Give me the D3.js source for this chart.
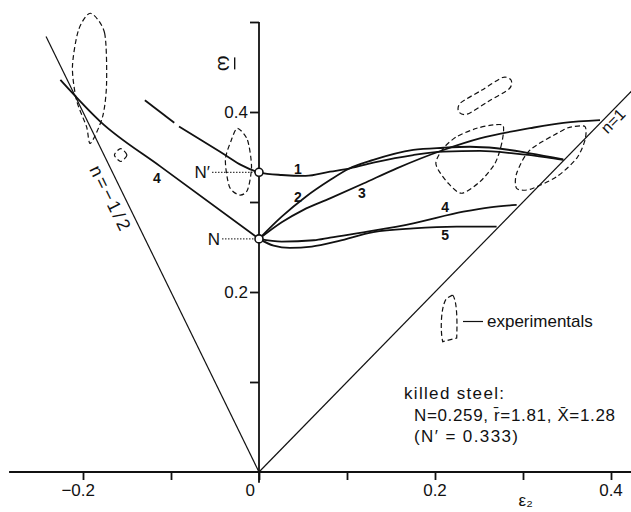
<!DOCTYPE html>
<html><head><meta charset="utf-8">
<script src="https://cdn.jsdelivr.net/npm/d3@7"></script>
<style>
body{margin:0;background:#fff}
svg{display:block}
text{font-family:"Liberation Sans",Arial,sans-serif;fill:#111}
</style></head><body>
<svg id="chart" width="631" height="512"></svg>
<script>
// ---- axis ticks ----
const xTicks = [-0.2, -0.1, 0, 0.1, 0.2, 0.3, 0.4];
const xTickLabels = ["\u22120.2", "", "0", "", "0.2", "", "0.4"];
const yTicks = [0.1, 0.2, 0.3, 0.4, 0.5];
const yTickLabels = ["", "0.2", "", "0.4", ""];

// ---- strain-path lines n = eps2/eps1 ----
const lineN1 = [[0, 0], [0.44, 0.44]];          // n = 1
const lineNHalf = [[0, 0], [-0.242, 0.484]];    // n = -1/2

// ---- predicted limit strains [eps2, omega] ----
const curve1Dash = [[-0.1297, 0.413], [-0.0909, 0.384]];
const curve1 = [[-0.0909, 0.384], [-0.0659, 0.369], [-0.038, 0.352], [-0.02, 0.341], [0, 0.333],
  [0.0258, 0.330], [0.053, 0.329], [0.0807, 0.3337], [0.1034, 0.3374], [0.1299, 0.3437],
  [0.1753, 0.3522], [0.2095, 0.3559], [0.251, 0.3567], [0.289, 0.3541], [0.327, 0.3497], [0.3458, 0.3467]];
const curve2 = [[0, 0.259], [0.0258, 0.2837], [0.0532, 0.3059], [0.0807, 0.3244], [0.1015, 0.3367],
  [0.1299, 0.3467], [0.1753, 0.3578], [0.2095, 0.3603], [0.2398, 0.3614], [0.2701, 0.3597],
  [0.308, 0.3541], [0.3458, 0.3474]];
const curve3 = [[0, 0.259], [0.0258, 0.2775], [0.05, 0.291], [0.0807, 0.304], [0.1186, 0.3205],
  [0.1565, 0.3374], [0.2095, 0.3578], [0.251, 0.3707], [0.308, 0.382], [0.346, 0.388], [0.3875, 0.391]];
const curve4 = [[0, 0.259], [0.0258, 0.256], [0.0624, 0.2575], [0.0807, 0.2605], [0.1299, 0.2681],
  [0.1753, 0.2763], [0.2322, 0.2892], [0.2625, 0.2941], [0.2928, 0.2967]];
const curve5 = [[0, 0.259], [0.0166, 0.2515], [0.035, 0.249], [0.06, 0.2505], [0.09, 0.2565],
  [0.1299, 0.2665], [0.1753, 0.2707], [0.2246, 0.2726], [0.27, 0.2726]];
const curve4Left = [[-0.2257, 0.4356], [-0.18, 0.389], [-0.1114, 0.339], [0, 0.259]];

// ---- marked points N and N' ----
const pointN = [0, 0.259];
const pointNprime = [0, 0.333];

// ---- experimental scatter regions (outlines) ----
const expA = [[-0.1915, 0.5097], [-0.1755, 0.4878], [-0.1732, 0.4322], [-0.1777, 0.3948], [-0.1915, 0.3652],
  [-0.196, 0.3837], [-0.2074, 0.4133], [-0.212, 0.4503], [-0.2051, 0.4911]];
const expB = [[-0.1572, 0.3594], [-0.1501, 0.3522], [-0.1572, 0.345], [-0.1643, 0.3522]];
const expC = [[-0.0245, 0.3819], [-0.0131, 0.3689], [-0.0085, 0.3392], [-0.0131, 0.3133], [-0.0223, 0.3078],
  [-0.0336, 0.317], [-0.0382, 0.3467], [-0.0314, 0.3689]];
const expD = [[0.2269, 0.4003], [0.2366, 0.3976], [0.2605, 0.4117], [0.2844, 0.4259], [0.2864, 0.4356],
  [0.2767, 0.4383], [0.2528, 0.4241], [0.2289, 0.41]];
const expE = [[0.2776, 0.3844], [0.2758, 0.3652], [0.2682, 0.343], [0.2511, 0.3226], [0.2303, 0.3097],
  [0.2151, 0.3208], [0.2038, 0.3356], [0.2011, 0.3448], [0.2094, 0.3597], [0.2247, 0.3726],
  [0.2474, 0.3819], [0.2663, 0.3856]];
const expF = [[0.3458, 0.38], [0.308, 0.3578], [0.2928, 0.3319], [0.2928, 0.3152], [0.308, 0.3141],
  [0.3383, 0.3281], [0.361, 0.3486], [0.3705, 0.3689], [0.3705, 0.3837], [0.3568, 0.3837]];
const expRegions = [expA, expB, expC, expD, expE, expF];

const svg = d3.select("#chart");
const x = d3.scaleLinear().domain([-0.3, 0.45]).range([-5, 655]);
const y = d3.scaleLinear().domain([0, 0.5]).range([472, 22]);
const ink = "#111";

// axes
const gx = svg.append("g").attr("transform", `translate(0,${y(0)})`)
  .call(d3.axisBottom(x).tickValues(xTicks).tickSize(8).tickFormat(""));
gx.select(".domain").remove();
gx.selectAll(".tick line").attr("stroke", ink).attr("stroke-width", 1.8);
svg.append("line").attr("x1", x(-0.284)).attr("x2", x(0.43)).attr("y1", y(0)).attr("y2", y(0))
  .attr("stroke", ink).attr("stroke-width", 1.8);
svg.selectAll(".xlab").data(xTicks).join("text")
  .attr("x", (d) => d < 0 ? x(d) + 12 : d === 0 ? x(d) - 4 : x(d))
  .attr("y", y(0) + 24)
  .attr("text-anchor", (d) => d <= 0 ? "end" : "middle")
  .attr("font-size", 17)
  .text((d, i) => xTickLabels[i]);

const gy = svg.append("g").attr("transform", `translate(${x(0)},0)`)
  .call(d3.axisLeft(y).tickValues(yTicks).tickSize(9).tickFormat(""));
gy.select(".domain").remove();
gy.selectAll(".tick line").attr("stroke", ink).attr("stroke-width", 1.8);
svg.append("line").attr("x1", x(0)).attr("x2", x(0)).attr("y1", y(0.5)).attr("y2", y(-0.012))
  .attr("stroke", ink).attr("stroke-width", 1.8);
svg.selectAll(".ylab").data(yTicks).join("text")
  .attr("x", x(0) - 11).attr("y", (d) => y(d) + 6)
  .attr("text-anchor", "end").attr("font-size", 17)
  .text((d, i) => yTickLabels[i]);

// axis titles
svg.append("text").attr("x", x(0.295)).attr("y", 506).attr("font-size", 17).text("\u03b5\u2082");
const wTitle = svg.append("g").attr("transform", `translate(${x(-0.039)},${y(0.454)}) rotate(90)`);
wTitle.append("text").attr("text-anchor", "middle").attr("dominant-baseline", "central")
  .attr("font-size", 20).text("\u03c9");
wTitle.append("line").attr("x1", -6).attr("x2", 6).attr("y1", -10).attr("y2", -10)
  .attr("stroke", ink).attr("stroke-width", 1.4);

const line = d3.line().x((d) => x(d[0])).y((d) => y(d[1]));
const smooth = d3.line().x((d) => x(d[0])).y((d) => y(d[1])).curve(d3.curveMonotoneX);
const closed = d3.line().x((d) => x(d[0])).y((d) => y(d[1])).curve(d3.curveCardinalClosed.tension(0.2));

// strain-path lines
[lineN1, lineNHalf].forEach((p) => svg.append("path").attr("d", line(p))
  .attr("fill", "none").attr("stroke", ink).attr("stroke-width", 1.2));

// experimental regions
expRegions.forEach((p) => svg.append("path").attr("d", closed(p))
  .attr("fill", "none").attr("stroke", ink).attr("stroke-width", 1.2).attr("stroke-dasharray", "5,3"));

// predicted curves
svg.append("path").attr("d", line(curve1Dash)).attr("fill", "none").attr("stroke", ink)
  .attr("stroke-width", 1.8).attr("stroke-dasharray", "37,200");
[curve1, curve2, curve3, curve4, curve5, curve4Left].forEach((p) => svg.append("path").attr("d", smooth(p))
  .attr("fill", "none").attr("stroke", ink).attr("stroke-width", 1.8));

// N and N' markers with dotted leaders
[[pointN, "N", 222], [pointNprime, "N\u2032", 212]].forEach(([p, lab, x0]) => {
  svg.append("line").attr("x1", x0).attr("x2", x(p[0]) - 4).attr("y1", y(p[1])).attr("y2", y(p[1]))
    .attr("stroke", ink).attr("stroke-width", 1).attr("stroke-dasharray", "1.5,1.5");
  svg.append("text").attr("x", x0 - 2).attr("y", y(p[1]) + 6).attr("text-anchor", "end")
    .attr("font-size", 17).text(lab);
  svg.append("circle").attr("cx", x(p[0])).attr("cy", y(p[1])).attr("r", 4)
    .attr("fill", "#fff").attr("stroke", ink).attr("stroke-width", 1.6);
});

// curve numbers
const curveLabels = [["1", 0.0441, 0.3363], ["2", 0.0441, 0.3059], ["3", 0.117, 0.3103],
  ["4", 0.2114, 0.2948], ["5", 0.2114, 0.2633], ["4", -0.1159, 0.3263]];
curveLabels.forEach(([t, e, w]) => svg.append("text").attr("x", x(e)).attr("y", y(w))
  .attr("text-anchor", "middle").attr("dominant-baseline", "central")
  .attr("font-size", 14).attr("font-weight", "bold").text(t));

// line labels
svg.append("text").attr("transform", `translate(110,198) rotate(63.7)`)
  .attr("text-anchor", "middle").attr("dominant-baseline", "central").attr("font-size", 18)
  .attr("textLength", 70).attr("lengthAdjust", "spacing")
  .text("n=\u22121/2");
svg.append("text").attr("transform", `translate(613,121) rotate(-45.6)`)
  .attr("text-anchor", "middle").attr("dominant-baseline", "central").attr("font-size", 16)
  .text("n=1");

// legend for experimental regions
svg.append("path").attr("d", "M452.7,295 C458,302 457,330 456.7,338 L442.7,341.7 C440,330 441,305 446.7,298.3 Z")
  .attr("fill", "none").attr("stroke", ink).attr("stroke-width", 1.2).attr("stroke-dasharray", "5,3");
svg.append("line").attr("x1", 463).attr("x2", 483).attr("y1", 321.5).attr("y2", 321.5)
  .attr("stroke", ink).attr("stroke-width", 1.2);
svg.append("text").attr("x", 487).attr("y", 327).attr("font-size", 17).text("experimentals");

// material note
svg.append("text").attr("x", 404).attr("y", 399).attr("font-size", 17)
  .attr("textLength", 100).attr("lengthAdjust", "spacing").text("killed steel:");
svg.append("text").attr("x", 414).attr("y", 421).attr("font-size", 17)
  .attr("textLength", 201).attr("lengthAdjust", "spacing")
  .text("N=0.259, r\u0304=1.81, X\u0304=1.28");
svg.append("text").attr("x", 414).attr("y", 442).attr("font-size", 17)
  .attr("textLength", 104).attr("lengthAdjust", "spacing").text("(N\u2032 = 0.333)");
</script>
</body></html>
